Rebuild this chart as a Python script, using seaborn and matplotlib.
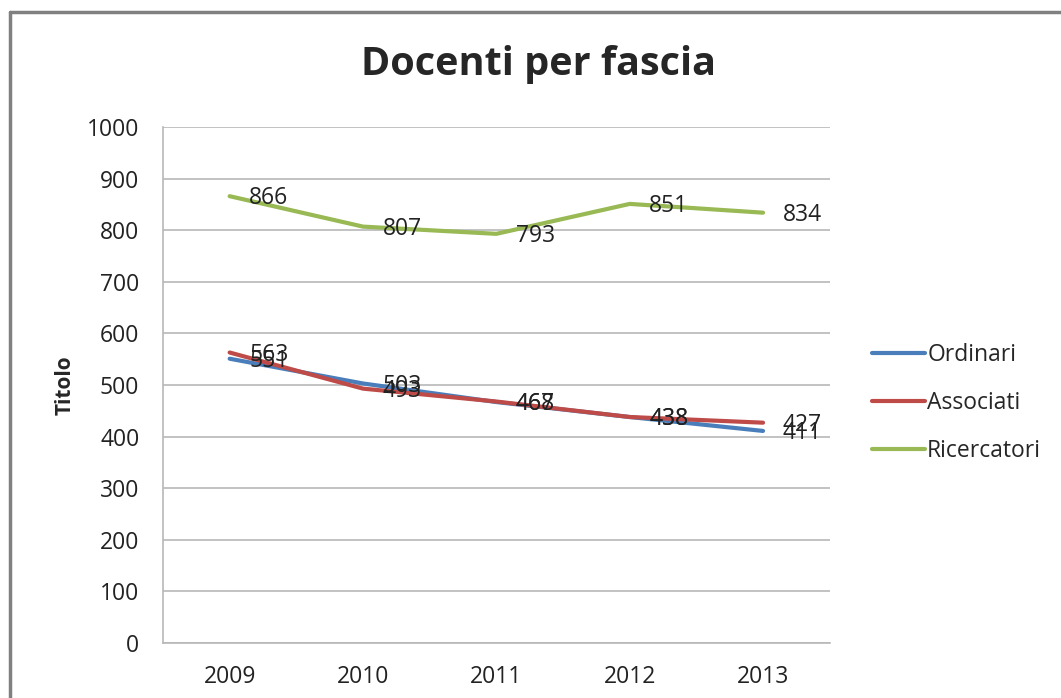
import pandas as pd
import seaborn as sns
import matplotlib.pyplot as plt
from matplotlib.lines import Line2D

# data
anni = ['2009', '2010', '2011', '2012', '2013']
ordinari = [551, 503, 467, 438, 411]
associati = [563, 493, 468, 438, 427]
ricercatori = [866, 807, 793, 851, 834]

serie = {'Ordinari': ordinari, 'Associati': associati, 'Ricercatori': ricercatori}
colori = {'Ordinari': '#4A7EBB', 'Associati': '#BE4B48', 'Ricercatori': '#98B954'}

df = pd.DataFrame([(a, nome, v) for nome, vals in serie.items() for a, v in zip(anni, vals)],
                  columns=['anno', 'fascia', 'valore'])

sns.set_style('white')
plt.rcParams['font.family'] = ['Open Sans', 'DejaVu Sans']

fig = plt.figure(figsize=(10.61, 6.98), dpi=100)
ax = fig.add_axes([0.1536, 0.0788, 0.6284, 0.7392])

sns.lineplot(data=df, x='anno', y='valore', hue='fascia', palette=colori,
             linewidth=3, ax=ax, sort=False)

# data labels to the right of each point (they overlap in the original too)
for nome, vals in serie.items():
    for i, v in enumerate(vals):
        ax.annotate(str(v), (i, v), xytext=(14, -1.5), textcoords='offset points',
                    ha='left', va='center', fontsize=16.5, color='#222222')

ax.set_xlim(-0.5, 4.5)
ax.set_ylim(0, 1000)
ax.set_yticks(range(0, 1001, 100))
ax.grid(axis='y', color='#B8B8B8', linewidth=1.2)
ax.set_axisbelow(True)
for s in ['top', 'right']:
    ax.spines[s].set_visible(False)
for s in ['left', 'bottom']:
    ax.spines[s].set_color('#B8B8B8')
    ax.spines[s].set_linewidth(1.2)
ax.tick_params(axis='y', length=0, labelsize=16.5, colors='#222222', pad=17)
ax.tick_params(axis='x', length=0, labelsize=16.5, colors='#222222', pad=16)
ax.set_xlabel('')
ax.set_ylabel('Titolo', fontsize=15, fontweight='bold', labelpad=8)

fig.suptitle('Docenti per fascia', fontsize=28.5, fontweight='bold', x=0.508, y=0.907, va='center')

ax.legend(loc='center left', bbox_to_anchor=(1.05, 0.465), frameon=False, fontsize=16.5,
          handlelength=2.3, handletextpad=0.1, labelspacing=1.05, borderaxespad=0)

# outer chart frame (left and top edges only, the rest is cropped)
fig.add_artist(Line2D([10/1061, 10/1061], [0, 1 - 12/698], transform=fig.transFigure,
                      color='#808080', linewidth=2.5))
fig.add_artist(Line2D([10/1061, 1], [1 - 12/698, 1 - 12/698], transform=fig.transFigure,
                      color='#808080', linewidth=2.5))

fig.savefig('out.png', dpi=100)
